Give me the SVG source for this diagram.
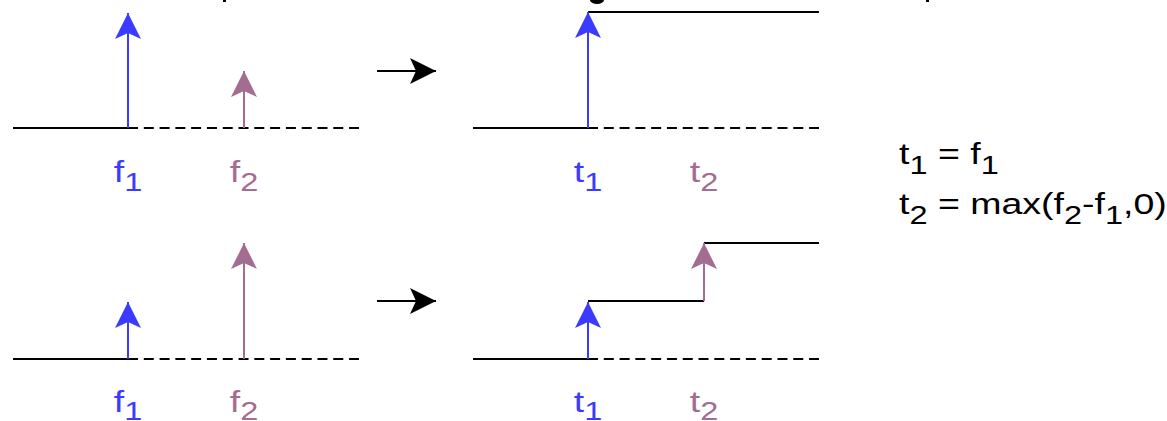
<svg xmlns="http://www.w3.org/2000/svg" width="1167" height="421" viewBox="0 0 1167 421">
<style>
.ln{stroke:#000;stroke-width:2;fill:none}
.ds{stroke:#000;stroke-width:2;fill:none;stroke-dasharray:10 5.79}
.bl{stroke:#3b3bff;stroke-width:2;fill:none}
.pu{stroke:#a56c93;stroke-width:2;fill:none}
.lbl{font-family:"Liberation Sans",Arial,sans-serif;font-size:30px}
.sub{font-size:26px}
.cb{fill:#3b3bff}
.cp{fill:#a56c93}
.ck{fill:#000}
</style>
<defs>
<marker id="ab" viewBox="0 0 26 26" markerWidth="26" markerHeight="26" refX="26" refY="13" orient="auto" markerUnits="userSpaceOnUse"><path d="M0,0 L26,13 L0,26 L6,13 Z" fill="#3b3bff"/></marker>
<marker id="ap" viewBox="0 0 26 26" markerWidth="26" markerHeight="26" refX="26" refY="13" orient="auto" markerUnits="userSpaceOnUse"><path d="M0,0 L26,13 L0,26 L6,13 Z" fill="#a56c93"/></marker>
<marker id="ak" viewBox="0 0 26 26" markerWidth="26" markerHeight="26" refX="26" refY="13" orient="auto" markerUnits="userSpaceOnUse"><path d="M0,0 L26,13 L0,26 L6,13 Z" fill="#000"/></marker>
</defs>
<g id="title-remnants" class="ck">
<rect x="223" y="0" width="3" height="2"/>
<ellipse cx="597" cy="0" rx="7" ry="4"/>
<rect x="926" y="0" width="3" height="2"/>
</g>
<g id="top-left">
<line class="ln" x1="13" y1="128" x2="128" y2="128"/>
<line class="ds" x1="128" y1="128" x2="359" y2="128"/>
<line class="bl" x1="128" y1="128" x2="128" y2="13" marker-end="url(#ab)"/>
<line class="pu" x1="244" y1="128" x2="244" y2="71" marker-end="url(#ap)"/>
<g transform="translate(128,182) scale(1.25,1)"><text class="lbl cb" text-anchor="middle">f<tspan class="sub" dy="9">1</tspan></text></g>
<g transform="translate(244,182) scale(1.25,1)"><text class="lbl cp" text-anchor="middle">f<tspan class="sub" dy="9">2</tspan></text></g>
</g>
<g id="top-right">
<line class="ln" x1="473" y1="128" x2="588" y2="128"/>
<line class="ds" x1="588" y1="128" x2="819" y2="128"/>
<line class="ln" x1="588" y1="12" x2="819" y2="12"/>
<line class="bl" x1="588" y1="128" x2="588" y2="12" marker-end="url(#ab)"/>
<g transform="translate(588,182) scale(1.25,1)"><text class="lbl cb" text-anchor="middle">t<tspan class="sub" dy="9">1</tspan></text></g>
<g transform="translate(704,182) scale(1.25,1)"><text class="lbl cp" text-anchor="middle">t<tspan class="sub" dy="9">2</tspan></text></g>
</g>
<g id="bottom-left">
<line class="ln" x1="13" y1="359" x2="128" y2="359"/>
<line class="ds" x1="128" y1="359" x2="359" y2="359"/>
<line class="bl" x1="128" y1="359" x2="128" y2="302" marker-end="url(#ab)"/>
<line class="pu" x1="244" y1="359" x2="244" y2="243" marker-end="url(#ap)"/>
<g transform="translate(128,412) scale(1.25,1)"><text class="lbl cb" text-anchor="middle">f<tspan class="sub" dy="8">1</tspan></text></g>
<g transform="translate(244,412) scale(1.25,1)"><text class="lbl cp" text-anchor="middle">f<tspan class="sub" dy="8">2</tspan></text></g>
</g>
<g id="bottom-right">
<line class="ln" x1="473" y1="359" x2="588" y2="359"/>
<line class="ds" x1="588" y1="359" x2="819" y2="359"/>
<polyline class="ln" points="588,301 704,301"/>
<line class="ln" x1="704" y1="243" x2="819" y2="243"/>
<line class="bl" x1="588" y1="359" x2="588" y2="302" marker-end="url(#ab)"/>
<line class="pu" x1="704" y1="301" x2="704" y2="243" marker-end="url(#ap)"/>
<g transform="translate(588,412) scale(1.25,1)"><text class="lbl cb" text-anchor="middle">t<tspan class="sub" dy="8">1</tspan></text></g>
<g transform="translate(704,412) scale(1.25,1)"><text class="lbl cp" text-anchor="middle">t<tspan class="sub" dy="8">2</tspan></text></g>
</g>
<g id="formula">
<g transform="translate(899,164) scale(1.25,1)"><text class="lbl ck">t<tspan class="sub" dy="10">1</tspan><tspan dy="-10"> = f</tspan><tspan class="sub" dy="10">1</tspan></text></g>
<g transform="translate(899,214) scale(1.25,1)"><text class="lbl ck">t<tspan class="sub" dy="10">2</tspan><tspan dy="-10"> = max(f</tspan><tspan class="sub" dy="10">2</tspan><tspan dy="-10">-f</tspan><tspan class="sub" dy="10">1</tspan><tspan dy="-10">,0)</tspan></text></g>
</g>
<g id="connectors">
<line class="ln" x1="377" y1="71" x2="436" y2="71" marker-end="url(#ak)"/>
<line class="ln" x1="377" y1="301" x2="436" y2="301" marker-end="url(#ak)"/>
</g>
</svg>
